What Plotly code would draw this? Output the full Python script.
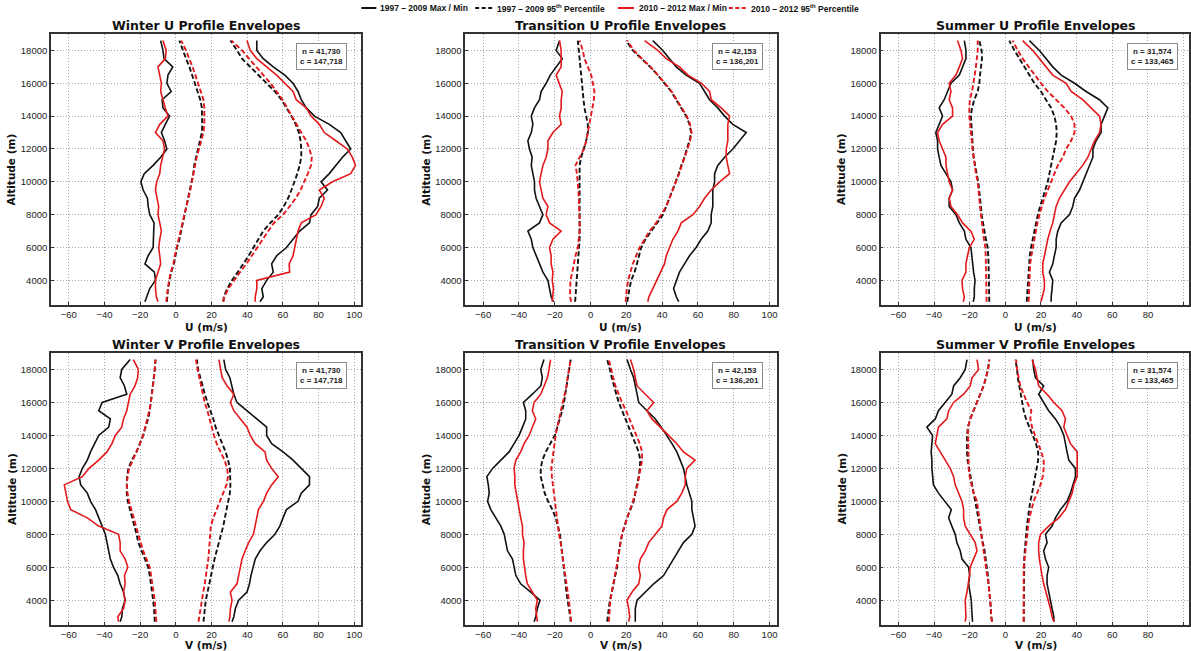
import plotly.graph_objects as go

W, H = 1191, 651

# Altitude levels (m)
ALT = [2700, 3000, 3500, 4000, 4500, 5000, 5500, 6000, 6500, 7000, 7500, 8000, 8500,
       9000, 9500, 10000, 10500, 11000, 11500, 12000, 12500, 13000, 13500, 14000,
       14500, 15000, 15500, 16000, 16500, 17000, 17500, 18000, 18600]

# ---------------- Winter U ----------------
wu_old_min = [-17.3, -16.4, -14.6, -11.4, -12, -17.3, -15.5, -12.7, -12.7, -12.4, -12.2, -14.6, -15.5, -15.9, -18.3, -19.6, -17.7, -12.7, -8.5, -5, -6.3, -8.1, -5.9, -3.5, -7.2, -7.7, -2.6, -5, -4.4, -1.7, -6.6, -7.2, -8.5]
wu_new_min = [-10, -10.9, -11.4, -11.4, -10, -8.5, -9, -9.6, -9, -8.1, -9, -10, -9.6, -10.3, -11.4, -10.7, -9, -8.5, -7.2, -6.3, -7.2, -11.4, -9, -4.4, -5.9, -7.2, -8.5, -8.1, -9, -10, -5.9, -5.4, -7.2]
wu_old_lo = [-5, -4.8, -4.4, -3.5, -2.6, -1.1, -0.4, 0.7, 2, 3, 3.9, 4.8, 5.9, 7, 8.1, 9, 9.8, 10.3, 11.3, 12.5, 13.7, 14.6, 14.8, 14.8, 14.6, 13.7, 12.2, 10.3, 8.9, 7.6, 5.7, 4.2, 2]
wu_new_lo = [-5.4, -5, -4.6, -3.8, -2.8, -1.4, -0.6, 0.5, 1.8, 2.8, 3.8, 4.8, 5.9, 7, 8.1, 9, 9.9, 10.6, 11.7, 13, 14.3, 15.5, 16, 16.2, 16, 15.5, 14, 12.2, 10.8, 9.4, 7.5, 5.7, 3]
wu_old_hi = [26.6, 26.9, 28.8, 31.5, 34.7, 38, 40.8, 43.5, 46.3, 49, 53, 57.4, 60.5, 62.9, 64.8, 66.6, 68.1, 69.4, 70.3, 70.3, 69.9, 69, 67.2, 64.8, 62, 59.2, 55.5, 50.9, 46.3, 41.7, 37.1, 34.3, 30.6]
wu_new_hi = [26.6, 27.2, 29.5, 32.5, 36, 39.5, 42.5, 45.4, 48.6, 51.8, 55, 60.1, 63.8, 67.2, 69.9, 72.1, 74, 75.8, 76.2, 74.9, 73.1, 70.3, 67.5, 64.8, 62.4, 59.8, 56.5, 53.1, 49, 45, 40.8, 37.1, 31.2]
wu_old_max = [47.2, 49, 48.2, 50.9, 54.6, 53.7, 56.5, 62, 65.7, 69.4, 74.9, 75.8, 79.5, 80.4, 85, 81.4, 86, 89.7, 93.4, 98, 95.2, 92.4, 86, 77.7, 73.1, 70.3, 68.5, 65.7, 61.1, 54.6, 49, 45.4, 45.4]
wu_new_max = [44.5, 44.5, 45.4, 45.4, 63.8, 63.5, 65.7, 66.6, 67.5, 68.5, 70.3, 78.6, 81.4, 83.2, 80.4, 87.8, 98, 100.7, 98.9, 96.1, 89.7, 83.2, 80.4, 75.8, 73.1, 67.5, 65.7, 61.1, 56.5, 50.9, 45.4, 41.7, 39.9]

# ---------------- Transition U ----------------
tu_old_min = [-20.7, -22, -22.9, -23.8, -26.6, -28.5, -30, -32.2, -33.1, -35, -28.5, -26.6, -28.5, -30.4, -31.3, -31.3, -32.2, -33.1, -32.6, -34.1, -35, -33.1, -32.2, -33.1, -31.3, -28.5, -27.6, -24.8, -22.5, -19.2, -15.8, -19.2, -17.3]
tu_new_min = [-21.4, -21, -20.7, -21.4, -21, -22, -22, -22.9, -21, -16.4, -22.9, -24.8, -23.8, -26.6, -27.6, -28.5, -27.6, -26.6, -24.8, -23.8, -23.8, -21, -16.4, -17.3, -16.4, -16.4, -15.8, -17.3, -19.2, -16.4, -16.4, -16.4, -17.3]
tu_old_lo = [-8.6, -8.4, -8, -7.4, -7.1, -6.7, -6.5, -6.1, -6.1, -6.1, -6.1, -6.1, -6.1, -6.1, -6.1, -6.1, -6.1, -6.1, -5.2, -3.7, -2.4, -1.5, -1.5, -2.4, -3.4, -3.9, -4.3, -4.7, -5.2, -5.8, -6.1, -6.5, -7.1]
tu_new_lo = [-10.8, -11.4, -11.4, -11.2, -10.2, -9.5, -8.4, -7.1, -6.5, -6.1, -6.1, -6.1, -6.3, -6.5, -6.8, -7.1, -7.6, -8.4, -6.1, -3.7, -2.4, -1.5, -0.6, 0.4, 1.3, 1.9, 2.2, 1.3, 0.4, -1.5, -3.4, -4.3, -6.1]
tu_old_hi = [20.5, 20.9, 21.8, 22.7, 24.6, 25.9, 27, 28.3, 30.7, 33.9, 36.7, 40.4, 42.3, 44.1, 46, 47.9, 49.3, 50.7, 52.5, 53.8, 55.3, 56.2, 55.3, 53.4, 50.7, 47.9, 45.1, 41.3, 37.6, 33.3, 28.3, 23.6, 19.9]
tu_new_hi = [19.6, 19.8, 20.3, 21, 22.2, 23.6, 25.5, 27.4, 30.2, 33, 36.7, 39.5, 42.3, 44.1, 46, 47.9, 49.5, 51, 52.8, 54.2, 55.6, 56.5, 55.6, 53.8, 51, 48.2, 45.3, 41.6, 37.8, 33.5, 28.7, 24.2, 20.5]
tu_old_max = [49.3, 47.9, 46.4, 47.9, 49.7, 52.5, 55.3, 59, 61.8, 65.5, 67.4, 67.4, 68.3, 68.3, 68.3, 69.3, 69.3, 71.1, 74.9, 79.5, 83.2, 87, 79.5, 74.9, 71.1, 66.5, 63.7, 60.9, 53.4, 47.9, 44.1, 40.4, 34.8]
tu_new_max = [32, 32.6, 34.8, 37, 39.5, 41.3, 42.3, 44.1, 46, 48.8, 50.7, 57.2, 60.9, 63.7, 67.4, 72.1, 77.7, 76.7, 75.8, 75.8, 76.7, 76.7, 76.7, 77.7, 73, 67.4, 66.5, 62, 54.5, 49.7, 42.3, 37.6, 30.2]

# ---------------- Summer U ----------------
su_old_min = [-18, -17.4, -17.4, -17, -17.8, -18.4, -18.7, -19.3, -22.1, -23, -25.8, -27.7, -31.5, -31.5, -29.6, -30.5, -33.3, -36.1, -37.1, -38, -38, -39, -37.1, -35.2, -37.1, -34.3, -32.4, -30.5, -25.8, -24, -22.1, -22.1, -23]
su_new_min = [-23.6, -23, -24, -24.3, -22.1, -22.1, -21.2, -20.2, -17.4, -19.3, -24, -26.8, -30.5, -31.5, -29.6, -31.5, -32.4, -33.3, -33.3, -35.2, -37.1, -38, -35.2, -29.6, -29.6, -31.5, -30.5, -31.5, -27.7, -25.8, -24, -24.9, -26.8]
su_old_lo = [-9, -9, -9, -9, -9.2, -9.4, -9.6, -9.9, -10.9, -11.8, -12.7, -13.3, -13.7, -14.2, -14.6, -15.2, -16.1, -17, -17.8, -18.2, -18.4, -18.7, -18.9, -19.3, -18.7, -17.4, -15.5, -14.6, -14.2, -13.7, -13.1, -13.3, -14.6]
su_new_lo = [-10.5, -10.6, -10.7, -10.9, -10.9, -10.9, -11, -11.2, -12, -12.7, -13.2, -13.7, -14.2, -14.6, -15, -15.5, -16.5, -17.2, -17.8, -18.4, -18.8, -19.3, -19.7, -20.2, -20.2, -19.9, -18.7, -17.8, -17.2, -16.5, -15.9, -15.5, -15.5]
su_old_hi = [12, 12.2, 12.3, 12.5, 12.8, 13.1, 13.7, 14.4, 15.3, 16.3, 16.9, 18.2, 19.5, 21, 22.5, 23.8, 24.7, 25.7, 26.6, 27.5, 28.5, 28.8, 28.5, 27.5, 25.7, 22.8, 20, 16.3, 13.5, 10.7, 7.5, 5.1, 2.2]
su_new_hi = [13.1, 13.2, 13.3, 13.5, 13.7, 13.9, 14.6, 15.4, 16.1, 16.9, 18, 19.1, 20.5, 21.9, 23.8, 25.7, 27.5, 29.4, 32.2, 34.1, 36.9, 38.8, 38.8, 36.9, 33.1, 28.5, 23.8, 20, 16.3, 13.1, 9.7, 6.9, 4.1]
su_old_max = [25.7, 25.7, 26.2, 26.6, 24.7, 26.6, 27.5, 28.5, 28.5, 29.4, 31.3, 36, 37.8, 38.8, 41.6, 43.4, 45.3, 47.2, 49.1, 49.1, 50.9, 53.7, 53.7, 55.6, 57.5, 52.8, 45.3, 38.8, 31.3, 26.6, 22.8, 19.1, 13.5]
su_new_max = [20, 20.6, 21.9, 21.9, 21, 21, 21.9, 22.8, 23.8, 25.1, 26.6, 27.5, 28.5, 30.3, 33.1, 36, 39.7, 43.4, 46.3, 48.1, 50, 52.8, 53.7, 52.8, 48.1, 43.4, 36.9, 34.1, 26.6, 22.8, 19.1, 15.4, 9.7]

# ---------------- Winter V ----------------
wv_old_min = [-31.2, -30.3, -29.9, -28.4, -29.3, -31.2, -32.5, -34.9, -36.7, -37.6, -38.6, -39.5, -41.3, -43.2, -45, -47.8, -49.6, -53.3, -54.2, -52.4, -49.6, -47.8, -45.4, -43.2, -37.6, -36.7, -43.2, -41.3, -27.5, -28.8, -31.2, -30.3, -25.6]
wv_new_min = [-32.1, -32.5, -29.3, -28.4, -29.3, -28.4, -28.8, -26.9, -28.4, -31.2, -31.2, -32.1, -43.2, -49.6, -58.9, -60.7, -61.6, -62.5, -52.4, -48.7, -43.2, -38.6, -35.8, -33.9, -30.3, -29.3, -27.5, -26.6, -25.6, -22.9, -21.4, -21, -23.8]
wv_old_lo = [-11.8, -11.8, -12.2, -12.7, -13.2, -13.7, -14.6, -15.5, -17.3, -19.2, -21, -22, -23.2, -24.7, -26, -26.9, -27.5, -27.5, -27.3, -26.6, -24.7, -22, -20.1, -18.3, -17, -15.5, -14.6, -14, -13.3, -12.7, -12.2, -11.8, -11.3]
wv_new_lo = [-10.9, -11.1, -11.4, -11.8, -12.5, -13.3, -14, -14.6, -16.4, -18.3, -19.7, -21, -22.4, -23.8, -25, -26.2, -27.1, -27.5, -27, -26.2, -24.1, -22, -20.1, -18.3, -17.1, -15.9, -14.9, -14, -13.3, -12.7, -12.2, -11.8, -11.5]
wv_old_hi = [15.5, 15.9, 16.3, 16.8, 17.7, 18.6, 19.5, 20.5, 21.7, 22.9, 24.2, 25.1, 26.6, 27.5, 28.4, 29.3, 30.3, 30.6, 30.6, 30.3, 29.3, 27.9, 26, 24.2, 22.3, 21, 19.2, 17.7, 16.3, 14.9, 13.7, 12.5, 11.8]
wv_new_hi = [12.7, 13.1, 13.9, 14.6, 15.4, 16.2, 17, 17.7, 18.2, 18.6, 18.9, 19.2, 19.6, 21, 22.9, 24.7, 26.6, 28.4, 29.2, 28.8, 27.3, 25.1, 22.9, 21.4, 20.3, 19.2, 17.7, 16.2, 15.1, 14, 13.1, 12.2, 11.3]
wv_old_max = [31.5, 32.5, 33.4, 35.2, 39.9, 41.3, 42.1, 43.2, 44.5, 47.2, 50.9, 55.5, 58.3, 60.1, 62, 68.5, 70.3, 74.9, 74.9, 70.3, 65.7, 60.1, 53.7, 50.9, 50.9, 45.4, 39.9, 34.3, 32.5, 31.5, 30.3, 27.9, 26.9]
wv_new_max = [29.7, 30.3, 30.6, 31.5, 30.6, 34.3, 35.2, 36.2, 37.1, 38.9, 40.8, 43.5, 44.5, 45.4, 46.3, 49.1, 50.9, 53.7, 57.4, 53.7, 50.9, 50, 44.5, 41.7, 39.9, 36.2, 32.5, 30.6, 32.5, 28.8, 26, 25.1, 24.2]

# ---------------- Transition V ----------------
tv_old_min = [-31.5, -30.6, -29.7, -28.2, -33.4, -39, -41.7, -42.7, -43.6, -46.4, -47.3, -48.2, -50.1, -52.9, -55.7, -57.5, -56.6, -57.1, -57.9, -54.7, -50.1, -45.5, -42.7, -39.9, -38, -36.2, -36.2, -37.5, -32.5, -27.8, -26.9, -27.8, -26]
tv_new_min = [-29.7, -30.1, -30.6, -29.7, -32.5, -35.3, -36.2, -36.7, -37.5, -37.5, -37.1, -38, -38, -39, -39.9, -40.8, -41.7, -42.3, -42.3, -42.7, -41.7, -39, -37.1, -34.3, -32.5, -30.6, -32.5, -31.5, -27.8, -26, -24.1, -23.2, -22.3]
tv_old_lo = [-11.1, -11.3, -12.1, -13, -13.5, -13.9, -14.4, -14.8, -15.3, -15.8, -16.4, -17.1, -18.2, -19.5, -21.3, -23.7, -25.6, -26.9, -27.8, -27.8, -26.9, -25, -22.3, -20, -18.6, -17.1, -15.8, -14.8, -14.1, -13.4, -12.8, -12.1, -11.1]
tv_new_lo = [-10.8, -11.2, -11.6, -12.1, -12.7, -13.4, -14.1, -14.8, -15.3, -15.8, -16.7, -17.6, -18.2, -18.9, -19.5, -20, -20.7, -21.3, -21.6, -21.9, -21.4, -20.8, -20.2, -19.5, -18.6, -17.6, -16.4, -15.2, -14.3, -13.4, -12.8, -12.1, -11.1]
tv_old_hi = [9.3, 9.6, 10.2, 10.8, 11.9, 13, 13.9, 14.8, 15.3, 15.8, 16.7, 17.6, 18.9, 20.4, 22.3, 24.1, 25, 26, 26.9, 27.5, 27.8, 26.9, 25, 23.2, 21.3, 19.5, 17.6, 15.8, 14.4, 13, 11.9, 10.8, 9.3]
tv_new_hi = [10.2, 10.4, 10.8, 11.1, 11.9, 12.6, 13.6, 14.5, 15.2, 15.8, 16.7, 17.6, 19, 20.4, 22, 23.7, 25, 26.3, 27.1, 27.8, 28.8, 28.8, 27.5, 25.6, 23.8, 21.9, 19.8, 17.6, 15.8, 13.9, 12.7, 11.5, 10.2]
tv_old_max = [25, 25, 25, 26, 30.6, 35.3, 40.8, 43.6, 46.4, 49.2, 51.9, 56.6, 58.4, 57.5, 56.6, 56.6, 55.2, 53.8, 52.9, 51.9, 50.1, 48.2, 45.5, 42.7, 39.5, 36.2, 31.5, 26.9, 26, 25, 24.1, 22.3, 20.4]
tv_new_max = [21.3, 21.9, 21.3, 20.4, 23.2, 26.9, 27.8, 26.9, 27.8, 30.6, 32.5, 36.2, 39.9, 40.8, 42.7, 48.2, 51, 52.9, 52.9, 53.8, 58.4, 51.9, 48.2, 43.6, 39, 34.3, 31.5, 35.3, 30.6, 26, 25, 24.1, 22.3]

# ---------------- Summer V ----------------
sv_old_min = [-18.4, -18.7, -18.9, -19.1, -19.7, -20.6, -20, -20.6, -24.3, -25.3, -27.2, -28.1, -30, -31.8, -30.3, -33.7, -37.5, -40.3, -40.8, -41.2, -41.2, -41.6, -41.2, -40.8, -44, -39.3, -37.5, -33.7, -30, -29, -25.3, -22.5, -21.5]
sv_new_min = [-22.5, -22.1, -22.3, -22.5, -21.5, -20.6, -20.1, -19.7, -17.8, -15.9, -16.9, -19.7, -22.5, -23.4, -23.4, -24.3, -26.2, -28.1, -29, -30.9, -33.7, -36.5, -39.3, -38.4, -37.5, -32.8, -31.8, -29, -23.4, -19.7, -18.7, -15, -15.9]
sv_old_lo = [-7.5, -7.9, -8.1, -8.4, -8.9, -9.4, -9.8, -10.3, -11, -11.6, -12.6, -13.5, -14.2, -15, -16, -16.9, -17.8, -18.7, -19.7, -20.6, -21.2, -21.5, -21.5, -21.5, -21, -19.7, -17.8, -15.9, -14, -12.2, -10.9, -9.7, -9]
sv_new_lo = [-7.5, -7.9, -8.1, -8.4, -8.9, -9.4, -10.2, -10.9, -11.6, -12.2, -13.1, -13.5, -14, -14.6, -15.4, -15.9, -17.8, -19.1, -20, -20.6, -20.6, -20.6, -20.6, -20.6, -21, -19.7, -17.8, -15.9, -14, -12.2, -10.9, -9.7, -9]
sv_old_hi = [10.3, 10.3, 10.3, 10.3, 10.3, 10.3, 10.3, 10.3, 10.6, 10.9, 11.2, 11.6, 12.1, 12.7, 13.3, 14, 15, 15.9, 16.9, 17.8, 18.4, 18.4, 17.2, 15.4, 13.5, 11.6, 10.3, 9.4, 8.4, 7.5, 7, 6.6, 5.6]
sv_new_hi = [10.3, 10.3, 10.3, 10.3, 10.3, 10.3, 10.3, 10.3, 10.8, 11.2, 11.7, 12.2, 12.8, 13.5, 14.6, 15.9, 17.8, 19.7, 21, 21.5, 21.5, 20.2, 18.4, 16.5, 15, 14, 14.6, 12.2, 10.3, 8.4, 7.5, 6.6, 6]
sv_old_max = [27.2, 27.2, 26.2, 25.3, 24.3, 23.4, 23.4, 24.3, 22.5, 21.5, 23.4, 22.5, 26.2, 28.1, 30.9, 34.6, 36.5, 37.8, 39.3, 39.3, 35.6, 34.6, 33.7, 32.8, 30.9, 28.1, 24.3, 21.5, 18.7, 21.5, 16.9, 15.9, 15.4]
sv_new_max = [27.2, 26.2, 25.3, 24, 22.5, 21.5, 20.6, 19.7, 19.1, 18.7, 18.7, 19.7, 24.3, 30, 33.7, 35.6, 37.5, 38.4, 40.3, 40.3, 40.3, 40.3, 36.5, 34.6, 32.8, 33.7, 31.8, 27.2, 23.4, 18.7, 17.8, 16.9, 15]

TITLES = ["Winter U Profile Envelopes", "Transition U Profile Envelopes", "Summer U Profile Envelopes",
          "Winter V Profile Envelopes", "Transition V Profile Envelopes", "Summer V Profile Envelopes"]
XLABELS = ["U (m/s)"] * 3 + ["V (m/s)"] * 3
N_OBS = ["41,730", "42,153", "31,574", "41,730", "42,153", "31,574"]
C_OBS = ["147,718", "136,201", "133,465", "147,718", "136,201", "133,465"]
LEGEND_LABELS = ["1997 \u2013 2009 Max / Min", "1997 \u2013 2009 95<sup>th</sup> Percentile",
                 "2010 \u2013 2012 Max / Min", "2010 \u2013 2012 95<sup>th</sup> Percentile"]
X_TICKS = [-60, -40, -20, 0, 20, 40, 60, 80, 100]
Y_TICKS = [4000, 6000, 8000, 10000, 12000, 14000, 16000, 18000]

PANEL_DATA = [
    (wu_old_min, wu_old_max, wu_old_lo, wu_old_hi, wu_new_min, wu_new_max, wu_new_lo, wu_new_hi),
    (tu_old_min, tu_old_max, tu_old_lo, tu_old_hi, tu_new_min, tu_new_max, tu_new_lo, tu_new_hi),
    (su_old_min, su_old_max, su_old_lo, su_old_hi, su_new_min, su_new_max, su_new_lo, su_new_hi),
    (wv_old_min, wv_old_max, wv_old_lo, wv_old_hi, wv_new_min, wv_new_max, wv_new_lo, wv_new_hi),
    (tv_old_min, tv_old_max, tv_old_lo, tv_old_hi, tv_new_min, tv_new_max, tv_new_lo, tv_new_hi),
    (sv_old_min, sv_old_max, sv_old_lo, sv_old_hi, sv_new_min, sv_new_max, sv_new_lo, sv_new_hi),
]

BLACK = "#111111"
RED = "#e3191c"
DASH = "5px,2.6px"

# Layout geometry (pixels)
COLS = [(51, 362), (466, 778), (882, 1191)]
ROWS = [(34, 305), (353, 625)]
XRANGES = [[-70, 104], [-70, 104], [-70, 103]]


def px(x):
    return x / W


def py(y):
    return 1 - y / H


fig = go.Figure()
layout = dict(
    width=W, height=H, autosize=False,
    margin=dict(l=0, r=0, t=0, b=0),
    paper_bgcolor="white", plot_bgcolor="white",
    showlegend=False,
    font=dict(family="Liberation Sans, Arial, sans-serif", color="#222"),
)
annotations = []
shapes = []

TITLE_FONT = dict(family="DejaVu Sans, sans-serif", size=12.5, color="#111")
LABEL_FONT = dict(family="DejaVu Sans, sans-serif", size=10.5, color="#111")
TICK_FONT = dict(family="Liberation Sans, Arial, sans-serif", size=9.5, color="#222")

for i in range(6):
    r, c = divmod(i, 3)
    x0, x1 = COLS[c]
    y0, y1 = ROWS[r]
    k = "" if i == 0 else str(i + 1)
    xa, ya = "x" + k, "y" + k
    common = dict(showline=True, linecolor="#333", linewidth=1.5, mirror=True,
                  showgrid=True, gridcolor="#a8a8a8", griddash="1px,2px", gridwidth=0.9,
                  zeroline=False, ticks="inside", ticklen=3, tickcolor="#333",
                  tickfont=TICK_FONT)
    layout["xaxis" + k] = dict(domain=[px(x0), px(x1)], anchor=ya, range=XRANGES[c],
                               tickvals=X_TICKS, **common)
    layout["yaxis" + k] = dict(domain=[py(y1), py(y0)], anchor=xa, range=[2500, 19000],
                               tickvals=Y_TICKS, tickformat="d", **common)

    omin, omax, olo, ohi, nmin, nmax, nlo, nhi = PANEL_DATA[i]
    specs = [
        (omin, BLACK, "solid", 1.6), (omax, BLACK, "solid", 1.6),
        (olo, BLACK, DASH, 1.9), (ohi, BLACK, DASH, 1.9),
        (nmin, RED, "solid", 1.6), (nmax, RED, "solid", 1.6),
        (nlo, RED, DASH, 1.9), (nhi, RED, DASH, 1.9),
    ]
    for vals, col, dash, lw in specs:
        fig.add_trace(go.Scatter(x=vals, y=ALT, mode="lines", xaxis=xa, yaxis=ya,
                                 line=dict(color=col, width=lw, dash=dash),
                                 hoverinfo="skip"))

    cx = (x0 + x1) / 2 if c < 2 else (x0 + 1193) / 2
    # panel title
    annotations.append(dict(text="<b>%s</b>" % TITLES[i], x=px(cx), y=py(y0 - 8.5),
                            xref="paper", yref="paper", showarrow=False,
                            xanchor="center", yanchor="middle", font=TITLE_FONT))
    # x-axis label
    xl_y = y1 + 21.5 if r == 0 else y1 + 20
    annotations.append(dict(text="<b>%s</b>" % XLABELS[i], x=px(cx), y=py(xl_y),
                            xref="paper", yref="paper", showarrow=False,
                            xanchor="center", yanchor="middle", font=LABEL_FONT))
    # y-axis label
    annotations.append(dict(text="<b>Altitude (m)</b>", x=px(x0 - 39), y=py((y0 + y1) / 2),
                            xref="paper", yref="paper", showarrow=False, textangle=-90,
                            xanchor="center", yanchor="middle", font=LABEL_FONT))
    # n / c box
    bx = x1 - 14 if c < 2 else 1180
    annotations.append(dict(text="<b>n = %s<br>c = %s</b>" % (N_OBS[i], C_OBS[i]),
                            x=px(bx), y=py(y0 + 9), xref="paper", yref="paper",
                            showarrow=False, xanchor="right", yanchor="top", align="center",
                            font=dict(family="Liberation Sans, Arial, sans-serif", size=8, color="#222"),
                            bgcolor="white", bordercolor="#8a8a8a", borderwidth=1, borderpad=3))

# custom legend row
LEG_ITEMS = [(362, 377, BLACK, "solid"), (476, 493, BLACK, "4px,2.5px"),
             (619, 635, RED, "solid"), (730, 747, RED, "4px,2.5px")]
LEG_TEXT_X = [379, 496, 638, 750]
for (lx0, lx1, col, dash), tx, lab in zip(LEG_ITEMS, LEG_TEXT_X, LEGEND_LABELS):
    shapes.append(dict(type="line", xref="paper", yref="paper", x0=px(lx0), x1=px(lx1),
                       y0=py(8), y1=py(8), line=dict(color=col, width=2, dash=dash)))
    annotations.append(dict(text="<b>%s</b>" % lab, x=px(tx), y=py(8), xref="paper", yref="paper",
                            showarrow=False, xanchor="left", yanchor="middle",
                            font=dict(family="Liberation Sans, Arial, sans-serif", size=8.5, color="#111")))

layout["annotations"] = annotations
layout["shapes"] = shapes
fig.update_layout(**layout)
fig.write_html("out.html", config={"displayModeBar": False},
               post_script="document.body.style.margin='0';document.body.style.overflow='hidden';")
